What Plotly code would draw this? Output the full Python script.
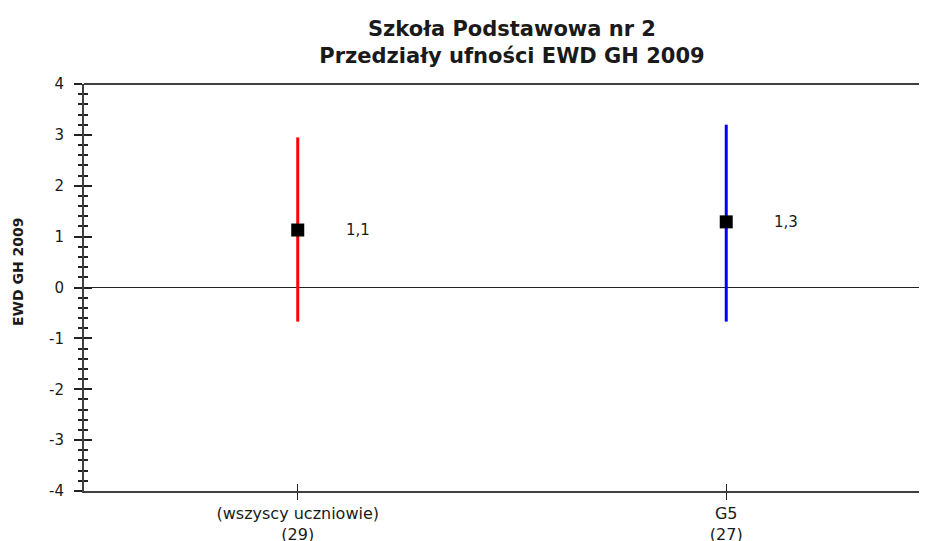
import plotly.graph_objects as go

categories = ["(wszyscy uczniowie)<br>(29)", "G5<br>(27)"]
ewd_values = [1.13, 1.29]
ci_upper = [2.95, 3.20]
ci_lower = [-0.67, -0.67]
bar_colors = ["#ff0000", "#0000ff"]
value_labels = ["1,1", "1,3"]
y_ticks = [-4, -3, -2, -1, 0, 1, 2, 3, 4]
y_tick_text = ["-4", "-3", "-2", "-1", "0", "1", "2", "3", "4"]

xpos = list(range(len(categories)))
AX = "#404040"
FONT = "DejaVu Sans, sans-serif"
TXT = "#1a1a1a"

fig = go.Figure()
for i in xpos:
    fig.add_trace(go.Scatter(
        x=[i], y=[ewd_values[i]], mode="markers",
        marker=dict(symbol="square", size=13, color="black"),
        error_y=dict(type="data", symmetric=False,
                     array=[ci_upper[i] - ewd_values[i]],
                     arrayminus=[ewd_values[i] - ci_lower[i]],
                     color=bar_colors[i], thickness=3, width=0),
        showlegend=False, hoverinfo="skip", cliponaxis=False,
    ))
    fig.add_annotation(x=i, y=ewd_values[i], text=value_labels[i], showarrow=False,
                       xshift=60, font=dict(size=15, color=TXT, family=FONT))

# y-axis title
fig.add_annotation(x=-0.0783, y=0.5405, xref="paper", yref="paper", text="<b>EWD GH 2009</b>",
                   textangle=-90, showarrow=False, xanchor="center", yanchor="middle",
                   font=dict(size=14, color=TXT, family=FONT))

# invisible trace for overlay axes
fig.add_trace(go.Scatter(x=[0], y=[0], xaxis="x2", yaxis="y2", mode="markers",
                         marker=dict(opacity=0), showlegend=False, hoverinfo="skip"))

xr = [-0.4988, 1.4685]
yr = [-4, 4]
fig.update_layout(
    width=919, height=533,
    margin=dict(l=76, r=0, t=76, b=50, autoexpand=False),
    paper_bgcolor="white", plot_bgcolor="white",
    font=dict(family=FONT, color=TXT),
    title=dict(text="<b>Szkoła Podstawowa nr 2<br>Przedziały ufności EWD GH 2009</b>",
               x=0.5077, xref="paper", xanchor="center", y=1 - 28 / 533, yanchor="middle",
               font=dict(size=21, color=TXT, family=FONT)),
    xaxis=dict(range=xr, tickvals=xpos, ticktext=categories, showgrid=False,
               zeroline=False, showline=True, linecolor=AX, linewidth=2,
               ticks="outside", ticklen=7, tickwidth=1.2, tickcolor="#222",
               tickfont=dict(size=16, color=TXT), fixedrange=True, automargin=False),
    xaxis2=dict(range=xr, overlaying="x", tickvals=xpos, showticklabels=False,
                showgrid=False, zeroline=False, showline=False, automargin=False,
                ticks="inside", ticklen=7, tickwidth=1.2, tickcolor="#222", anchor="y2"),
    yaxis=dict(range=yr, tickvals=y_ticks, ticktext=y_tick_text, showgrid=False,
               zeroline=True, zerolinecolor="#222", zerolinewidth=1.2,
               showline=True, linecolor=AX, linewidth=2,
               ticks="outside", ticklen=8, tickwidth=1.5, tickcolor="#222",
               minor=dict(dtick=0.2, ticks="outside", ticklen=4, tickwidth=1.5, tickcolor="#222"),
               tickfont=dict(size=15, color=TXT), automargin=False, ticklabelstandoff=7,
               fixedrange=True),
    yaxis2=dict(range=yr, overlaying="y", tickvals=y_ticks, showticklabels=False,
                showgrid=False, zeroline=False, showline=False, anchor="x2", automargin=False,
                ticks="inside", ticklen=8, tickwidth=1.5, tickcolor="#222",
                minor=dict(dtick=0.2, ticks="inside", ticklen=4, tickwidth=1.5, tickcolor="#222")),
    shapes=[dict(type="line", xref="paper", yref="paper", x0=0, x1=1, y0=1, y1=1,
                 line=dict(color=AX, width=2))],
)

fig.write_html("out.html")
